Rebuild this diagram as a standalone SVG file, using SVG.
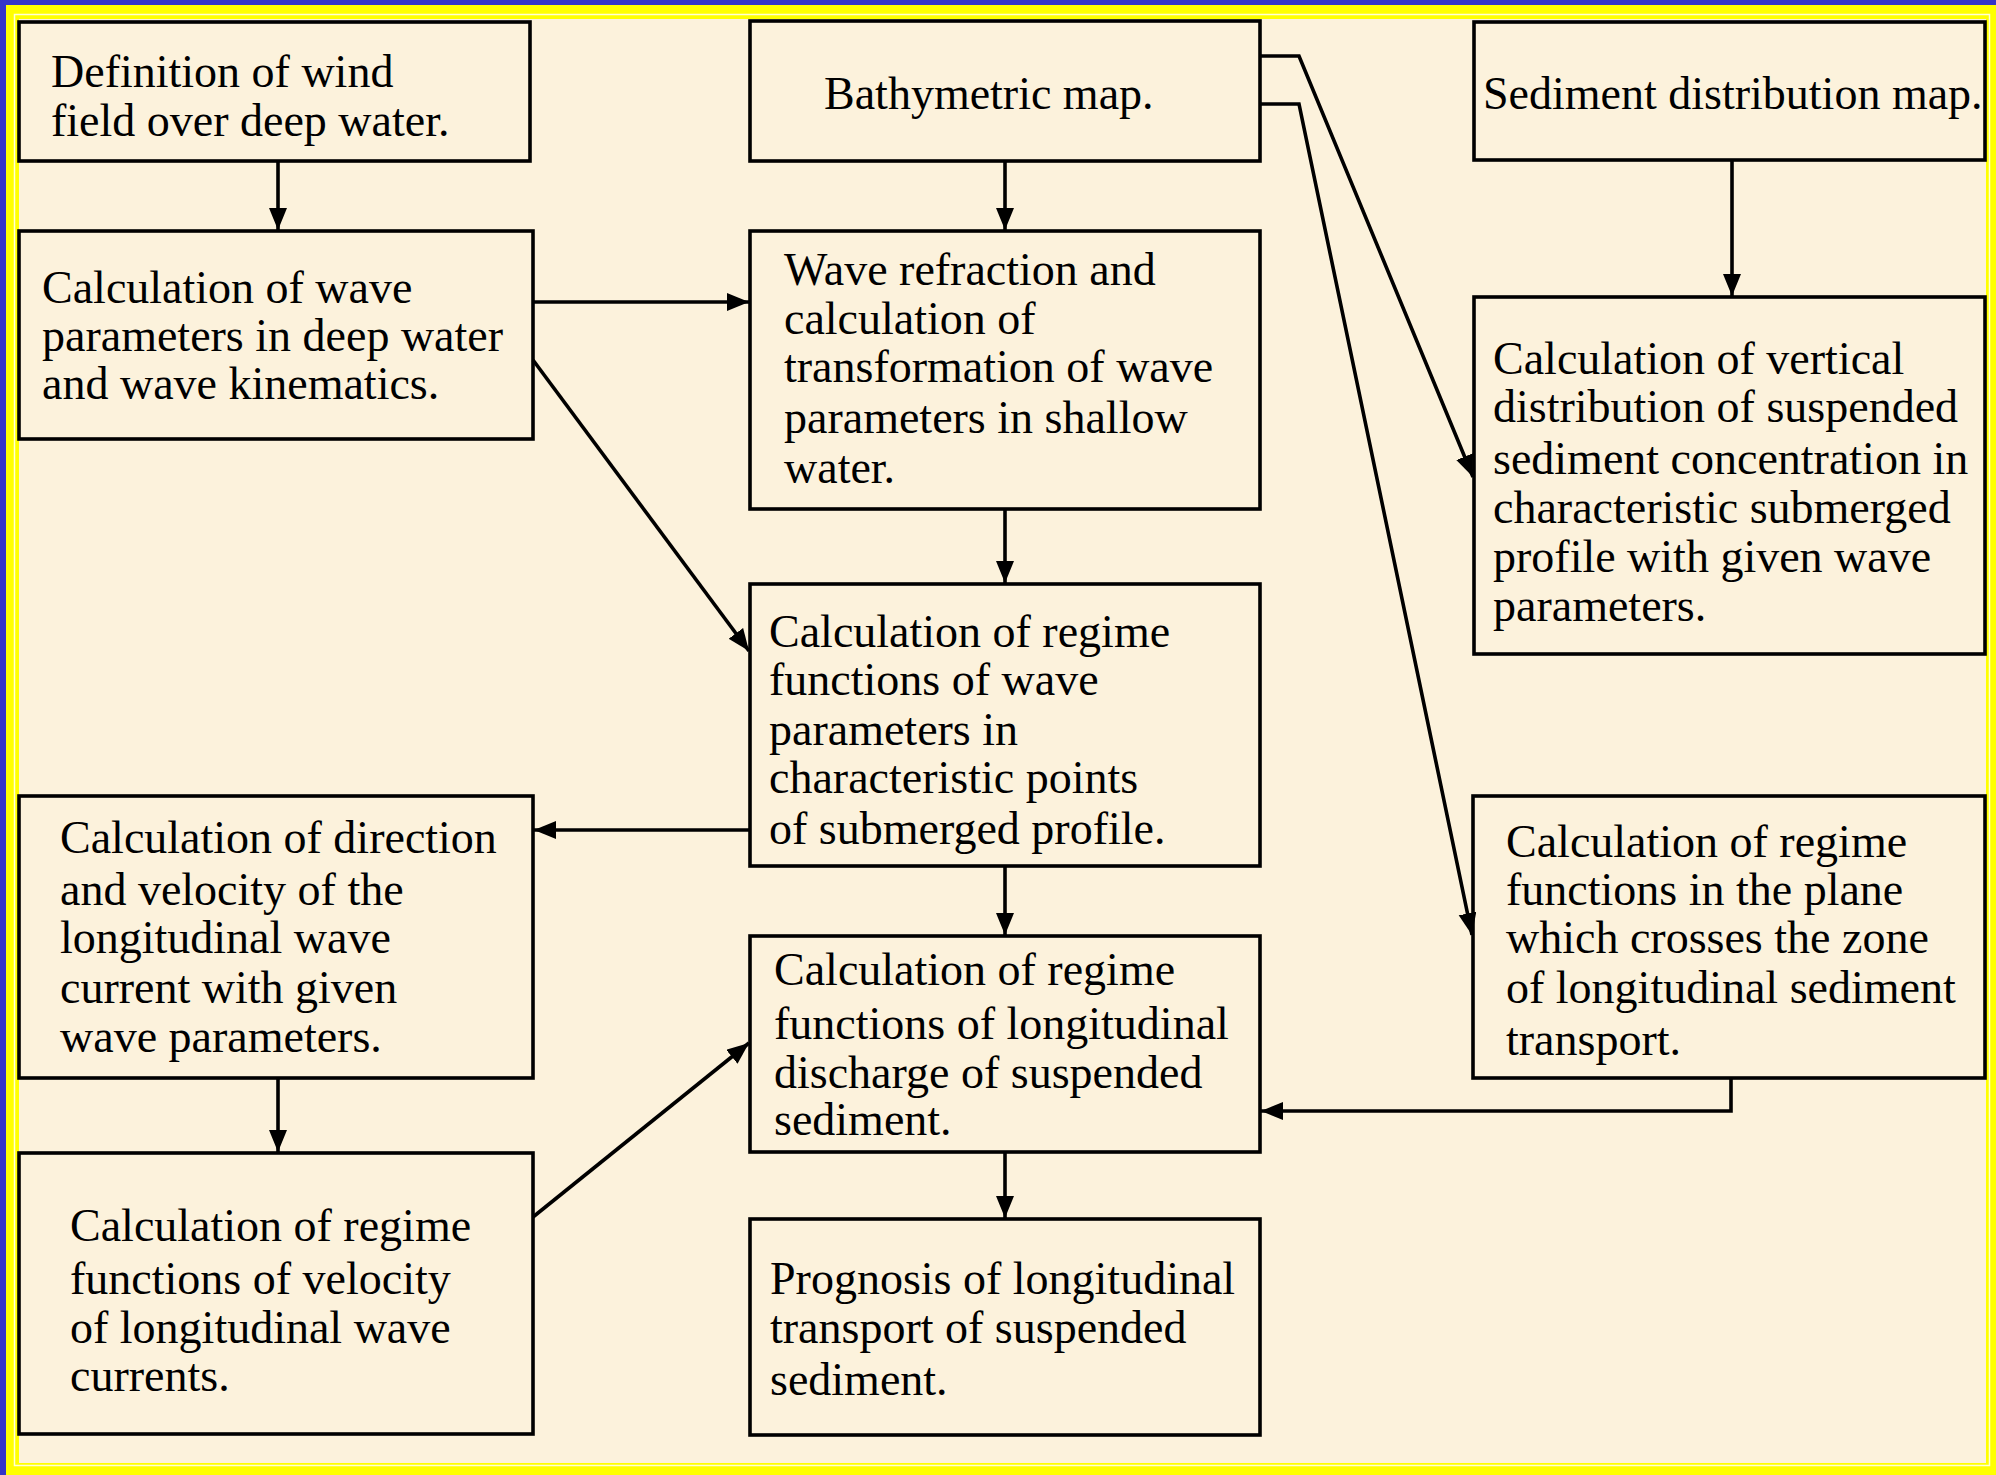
<svg xmlns="http://www.w3.org/2000/svg" width="1996" height="1475" viewBox="0 0 1996 1475">
<defs>
<style>
.box{fill:#FCF2DC;stroke:#000;stroke-width:3.6}
.t{font-family:"Liberation Serif","Times New Roman",serif;font-size:46px;fill:#000}
.c{fill:none;stroke:#000;stroke-width:3.6}
</style>
<marker id="ah" markerUnits="userSpaceOnUse" markerWidth="24" markerHeight="20" refX="22" refY="9" orient="auto">
<path d="M0,0 L22,9 L0,18 z" fill="#000"/>
</marker>
</defs>
<rect x="0" y="0" width="1996" height="1475" fill="#3434C8"/>
<rect x="6" y="5" width="1990" height="1470" fill="#FFFF00"/>
<rect x="14.5" y="14.5" width="1975" height="1451" fill="none" stroke="#FFFFD8" stroke-width="1.5"/>
<rect x="19" y="19" width="1967" height="1444" fill="#FCF2DC"/>

<g id="n1"><rect class="box" x="19" y="22" width="511" height="139"/>
<text class="t" x="51" y="87">Definition of wind</text>
<text class="t" x="51" y="136">field over deep water.</text></g>

<g id="n2"><rect class="box" x="19" y="231" width="514" height="208"/>
<text class="t" x="42" y="303">Calculation of wave</text>
<text class="t" x="42" y="351">parameters in deep water</text>
<text class="t" x="42" y="399">and wave kinematics.</text></g>

<g id="n3"><rect class="box" x="750" y="21" width="510" height="140"/>
<text class="t" x="824" y="109">Bathymetric map.</text></g>

<g id="n4"><rect class="box" x="750" y="231" width="510" height="278"/>
<text class="t" x="784" y="285">Wave refraction and</text>
<text class="t" x="784" y="334">calculation of</text>
<text class="t" x="784" y="382">transformation of wave</text>
<text class="t" x="784" y="433">parameters in shallow</text>
<text class="t" x="784" y="483">water.</text></g>

<g id="n5"><rect class="box" x="1474" y="22" width="511" height="138"/>
<text class="t" x="1483" y="109">Sediment distribution map.</text></g>

<g id="n6"><rect class="box" x="1474" y="297" width="511" height="357"/>
<text class="t" x="1493" y="374">Calculation of vertical</text>
<text class="t" x="1493" y="422">distribution of suspended</text>
<text class="t" x="1493" y="474">sediment concentration in</text>
<text class="t" x="1493" y="523">characteristic submerged</text>
<text class="t" x="1493" y="572">profile with given wave</text>
<text class="t" x="1493" y="621">parameters.</text></g>

<g id="n7"><rect class="box" x="750" y="584" width="510" height="282"/>
<text class="t" x="769" y="647">Calculation of regime</text>
<text class="t" x="769" y="695">functions of wave</text>
<text class="t" x="769" y="745">parameters in</text>
<text class="t" x="769" y="793">characteristic points</text>
<text class="t" x="769" y="844">of submerged profile.</text></g>

<g id="n8"><rect class="box" x="19" y="796" width="514" height="282"/>
<text class="t" x="60" y="853">Calculation of direction</text>
<text class="t" x="60" y="905">and velocity of the</text>
<text class="t" x="60" y="953">longitudinal wave</text>
<text class="t" x="60" y="1003">current with given</text>
<text class="t" x="60" y="1052">wave parameters.</text></g>

<g id="n9"><rect class="box" x="1473" y="796" width="512" height="282"/>
<text class="t" x="1506" y="857">Calculation of regime</text>
<text class="t" x="1506" y="905">functions in the plane</text>
<text class="t" x="1506" y="953">which crosses the zone</text>
<text class="t" x="1506" y="1003">of longitudinal sediment</text>
<text class="t" x="1506" y="1055">transport.</text></g>

<g id="n10"><rect class="box" x="750" y="936" width="510" height="216"/>
<text class="t" x="774" y="985">Calculation of regime</text>
<text class="t" x="774" y="1039">functions of longitudinal</text>
<text class="t" x="774" y="1088">discharge of suspended</text>
<text class="t" x="774" y="1135">sediment.</text></g>

<g id="n11"><rect class="box" x="19" y="1153" width="514" height="281"/>
<text class="t" x="70" y="1241">Calculation of regime</text>
<text class="t" x="70" y="1294">functions of velocity</text>
<text class="t" x="70" y="1343">of longitudinal wave</text>
<text class="t" x="70" y="1391">currents.</text></g>

<g id="n12"><rect class="box" x="750" y="1219" width="510" height="216"/>
<text class="t" x="770" y="1294">Prognosis of longitudinal</text>
<text class="t" x="770" y="1343">transport of suspended</text>
<text class="t" x="770" y="1395">sediment.</text></g>

<g id="connectors">
<path class="c" marker-end="url(#ah)" d="M278,161 V230"/>
<path class="c" marker-end="url(#ah)" d="M1005,161 V230"/>
<path class="c" marker-end="url(#ah)" d="M533,302 H749"/>
<path class="c" marker-end="url(#ah)" d="M533,360 L749,651"/>
<path class="c" marker-end="url(#ah)" d="M1005,509 V583"/>
<path class="c" marker-end="url(#ah)" d="M750,830 H534"/>
<path class="c" marker-end="url(#ah)" d="M1005,866 V935"/>
<path class="c" marker-end="url(#ah)" d="M1260,56 H1299 L1473,477"/>
<path class="c" marker-end="url(#ah)" d="M1260,104 H1299 L1472,935"/>
<path class="c" marker-end="url(#ah)" d="M1732,160 V296"/>
<path class="c" marker-end="url(#ah)" d="M1731,1078 V1111 H1261"/>
<path class="c" marker-end="url(#ah)" d="M278,1078 V1152"/>
<path class="c" marker-end="url(#ah)" d="M533,1217 L749,1043"/>
<path class="c" marker-end="url(#ah)" d="M1005,1152 V1218"/>
</g>
</svg>
